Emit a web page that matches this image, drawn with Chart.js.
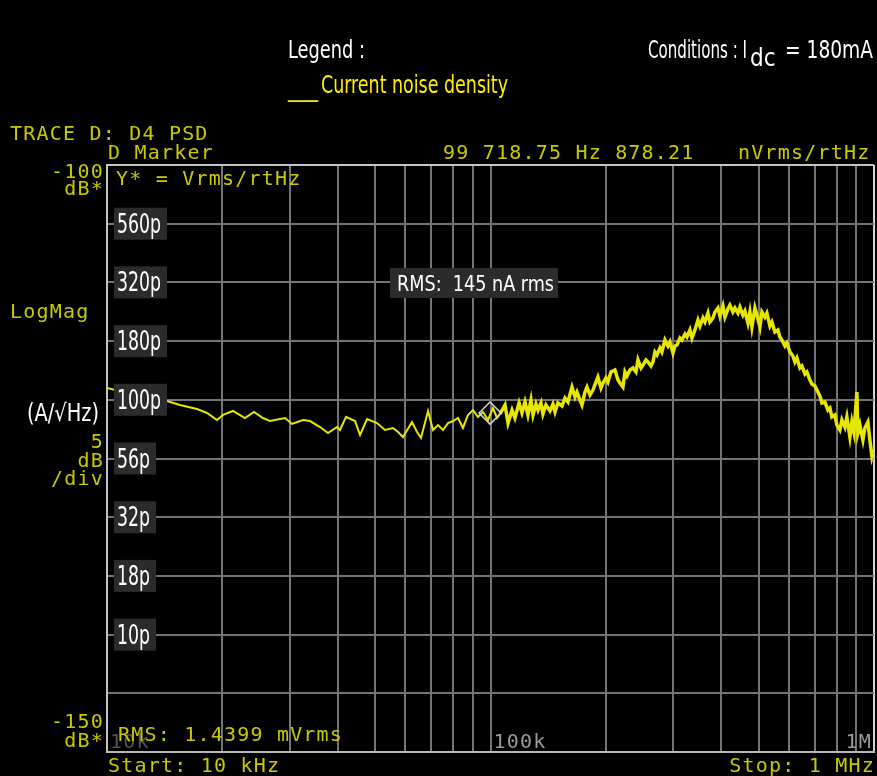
<!DOCTYPE html>
<html>
<head>
<meta charset="utf-8">
<title>Current noise density</title>
<script src="https://cdn.jsdelivr.net/npm/chart.js@4.4.0/dist/chart.umd.min.js"></script>
<style>
  html, body { margin: 0; padding: 0; background: #000; }
  #wrap { width: 877px; height: 776px; }
</style>
</head>
<body>
<div id="wrap"><canvas id="psd"></canvas></div>
<script>
// trace D (frequency in kHz, level in dB Vrms/rtHz)
var freqKHz = [
  10.0, 12.19, 14.34, 15.50, 17.17, 18.23, 19.36, 20.07, 21.31, 22.89,
  24.17, 25.51, 26.61, 29.12, 30.37, 32.44, 33.84, 35.93, 37.70, 39.79,
  40.51, 42.00, 44.34, 45.69, 47.65, 50.59, 53.08, 55.69, 57.39, 59.14,
  62.42, 64.33, 65.89, 68.72, 70.81, 72.97, 75.19, 77.48, 79.84, 82.27,
  84.77, 87.35, 90.01, 92.75, 95.58, 98.51, 101.5, 104.0, 105.9, 109.1,
  111.1, 113.8, 115.8, 118.7, 120.8, 123.0, 125.2, 127.5, 129.1, 131.4,
  133.0, 135.4, 137.0, 139.5, 142.9, 145.5, 147.3, 149.9, 153.6, 156.4,
  159.2, 163.1, 166.1, 168.1, 171.1, 173.2, 176.3, 178.5, 181.7, 185.0,
  188.4, 190.6, 194.1, 196.5, 200.0, 202.4, 206.1, 211.1, 215.0, 217.6,
  221.5, 224.2, 226.9, 231.0, 235.2, 239.5, 242.4, 246.8, 249.8, 254.3,
  257.4, 262.1, 265.2, 268.4, 271.7, 276.6, 279.9, 285.0, 290.2, 293.7,
  299.1, 302.7, 306.3, 311.9, 315.6, 321.4, 325.3, 331.2, 335.2, 341.3,
  347.5, 351.7, 358.1, 362.4, 369.0, 373.4, 380.2, 384.8, 391.8, 396.5,
  403.7, 408.6, 416.0, 421.0, 428.7, 433.9, 441.8, 447.1, 455.2, 460.7,
  469.1, 474.7, 480.5, 489.2, 495.1, 504.1, 510.2, 519.5, 525.7, 535.3,
  541.8, 551.6, 561.6, 568.4, 575.3, 585.7, 592.8, 603.6, 614.6, 622.0,
  629.5, 640.9, 648.7, 660.5, 668.4, 680.6, 688.8, 701.3, 709.8, 722.7,
  731.4, 744.7, 758.2, 767.4, 776.6, 790.8, 800.3, 814.9, 824.7, 839.7,
  849.8, 865.3, 875.7, 886.3, 902.4, 907.8, 918.8, 935.5, 946.8, 964.0,
  975.6, 988.0, 1000
];
var levelDb = [
  -118.99, -119.68, -120.10, -120.44, -120.78, -121.12, -121.72, -121.29, -120.95, -121.55,
  -121.04, -121.55, -121.81, -121.55, -122.06, -121.72, -121.81, -122.32, -122.83, -122.32,
  -122.57, -121.46, -121.81, -123.00, -121.64, -121.98, -122.57, -122.40, -122.74, -123.17,
  -121.89, -122.74, -123.25, -120.95, -122.57, -122.15, -122.57, -121.98, -121.81, -121.55,
  -122.40, -121.29, -120.87, -121.46, -121.04, -121.72, -120.70, -121.55, -121.21, -120.44,
  -121.98, -120.87, -121.55, -120.27, -121.12, -120.19, -121.29, -120.02, -121.29, -120.36,
  -120.87, -120.27, -121.21, -120.44, -120.95, -120.36, -121.04, -120.27, -120.53, -119.85,
  -120.19, -118.91, -119.76, -119.34, -120.02, -120.44, -119.34, -118.91, -119.59, -119.17,
  -118.48, -118.06, -118.99, -118.57, -118.14, -118.48, -117.63, -117.46, -118.31, -118.57,
  -118.91, -117.63, -117.97, -117.46, -117.29, -117.63, -116.61, -117.29, -117.04, -116.61,
  -116.78, -117.12, -116.78, -115.93, -116.18, -115.59, -115.93, -114.91, -115.42, -115.08,
  -116.01, -115.42, -115.33, -114.74, -114.91, -114.40, -114.65, -114.05, -114.74, -114.05,
  -113.20, -113.71, -113.03, -113.37, -112.61, -113.37, -113.03, -112.52, -112.18, -112.86,
  -112.01, -112.95, -112.27, -111.93, -112.52, -112.18, -112.61, -112.10, -112.78, -112.44,
  -113.46, -112.52, -113.80, -112.18, -112.78, -113.80, -112.52, -112.95, -112.61, -113.71,
  -113.37, -114.22, -114.05, -114.65, -114.91, -115.42, -115.16, -115.93, -116.27, -116.78,
  -116.44, -117.29, -117.12, -117.80, -117.63, -118.31, -118.65, -118.82, -119.17, -119.68,
  -120.27, -120.19, -120.87, -120.70, -121.46, -121.29, -122.15, -122.57, -121.72, -122.32,
  -121.46, -123.17, -121.89, -122.74, -119.34, -122.83, -122.15, -123.42, -122.40, -121.89,
  -123.42, -124.87, -124.28
];

var markerKHz = 99.71875;
var markerDb = -121.13;

var xGridKHz = [10, 20, 30, 40, 50, 60, 70, 80, 90, 100, 200, 300, 400, 500, 600, 700, 800, 900, 1000];
var yGridDb = [-150, -145, -140, -135, -130, -125, -120, -115, -110, -105, -100];
var yLabelDb = [-105, -110, -115, -120, -125, -130, -135, -140];
var yLabelText = ['560p', '320p', '180p', '100p', '56p', '32p', '18p', '10p'];

var NARROW = "'Liberation Sans Narrow', 'DejaVu Sans Condensed', sans-serif";
var MONO = "'DejaVu Sans Mono', 'Liberation Mono', monospace";
var HP_YELLOW = '#c9c900';

function mono(ctx, str, x, y, align, color) {
  ctx.font = '20px ' + MONO;
  ctx.letterSpacing = '1.2px';
  ctx.textAlign = align || 'left';
  ctx.fillStyle = color || HP_YELLOW;
  ctx.fillText(str, x, y);
  ctx.letterSpacing = '0px';
}

// condensed white text, squeezed to look like the narrow font of the original
function narrow(ctx, str, x, y, w, color, size) {
  ctx.font = (size || 24) + 'px ' + NARROW;
  ctx.textAlign = 'left';
  ctx.fillStyle = color || '#fff';
  ctx.fillText(str, x, y, w);
}

var screenText = {
  id: 'screenText',
  beforeDraw: function (chart) {
    var ctx = chart.ctx;
    ctx.save();
    ctx.fillStyle = '#000';
    ctx.fillRect(0, 0, chart.width, chart.height);
    ctx.restore();
  },
  afterDraw: function (chart) {
    var ctx = chart.ctx;
    var xs = chart.scales.x;
    var ys = chart.scales.y;
    var area = chart.chartArea;
    ctx.save();
    ctx.textBaseline = 'alphabetic';

    // y labels in A/rtHz, boxed, on the library's y scale
    ctx.font = '26px ' + NARROW;
    yLabelDb.forEach(function (v, i) {
      var py = ys.getPixelForValue(v);
      var w = ctx.measureText(yLabelText[i]).width * 0.74;
      ctx.fillStyle = '#2b2b2b';
      ctx.fillRect(area.left + 7, py - 16, w + 9, 32);
      narrow(ctx, yLabelText[i], area.left + 10, py + 9, w, '#fff', 26);
      ctx.font = '26px ' + NARROW;
    });

    // header
    narrow(ctx, 'Legend :', 288, 58, 77);
    narrow(ctx, '___', 288, 96, 30, '#ffee00');
    narrow(ctx, 'Current noise density', 321, 93, 187, '#ffee00');
    narrow(ctx, 'Conditions : I', 648, 58, 99);
    narrow(ctx, 'dc', 750, 66, 30, '#fff', 24);
    narrow(ctx, '= 180mA', 785, 58, 88);

    // analyzer annotations
    mono(ctx, 'TRACE D: D4 PSD', 10, 140);
    mono(ctx, 'D Marker', 108, 159);
    mono(ctx, '99 718.75 Hz 878.21', 443, 159);
    mono(ctx, 'nVrms/rtHz', 738, 159);
    mono(ctx, '-100', 104, 178, 'right');
    mono(ctx, 'dB*', 104, 195, 'right');
    mono(ctx, 'Y* = Vrms/rtHz', 116, 185);
    mono(ctx, 'LogMag', 10, 318);
    mono(ctx, '5', 104, 448, 'right');
    mono(ctx, 'dB', 104, 467, 'right');
    mono(ctx, '/div', 104, 485, 'right');
    mono(ctx, '-150', 104, 728, 'right');
    mono(ctx, 'dB*', 104, 747, 'right');
    mono(ctx, '10k', xs.getPixelForValue(10) + 3, 748, 'left', '#555');
    mono(ctx, '100k', xs.getPixelForValue(100) + 3, 748, 'left', '#9a9a9a');
    mono(ctx, '1M', area.right - 2, 748, 'right', '#9a9a9a');
    mono(ctx, 'RMS: 1.4399 mVrms', 118, 741);
    mono(ctx, 'Start: 10 kHz', 108, 772);
    mono(ctx, 'Stop: 1 MHz', 875, 772, 'right');

    // unit label and RMS box
    narrow(ctx, '(A/\u221AHz)', 27, 421, 72);
    ctx.fillStyle = '#2b2b2b';
    ctx.fillRect(390, 268, 168, 30);
    narrow(ctx, 'RMS:  145 nA rms', 397, 291, 157, '#fff', 22);
    ctx.restore();
  }
};

var ctx = document.getElementById('psd');
var psdChart = new Chart(ctx, {
  type: 'line',
  data: {
    datasets: [
      {
        label: 'Marker',
        data: [{ x: markerKHz, y: markerDb }],
        showLine: false,
        pointStyle: 'rectRot',
        pointRadius: 11,
        pointBorderColor: '#d8d8d8',
        pointBackgroundColor: 'rgba(0,0,0,0)',
        pointBorderWidth: 1.5,
        order: 0
      },
      {
        label: 'Current noise density',
        data: freqKHz.map(function (f, i) { return { x: f, y: levelDb[i] }; }),
        borderColor: '#e6e600',
        borderWidth: 2,
        segment: {
          borderWidth: function (c) { return c.p0.parsed.x > 105 ? 3.5 : 2; }
        },
        pointRadius: 0,
        tension: 0,
        order: 1
      }
    ]
  },
  options: {
    responsive: true,
    maintainAspectRatio: false,
    animation: false,
    layout: { autoPadding: false, padding: { left: 107, right: 3, top: 165, bottom: 24 } },
    plugins: {
      legend: { display: false },
      tooltip: { enabled: false }
    },
    scales: {
      x: {
        type: 'logarithmic',
        min: 10,
        max: 1000,
        afterBuildTicks: function (scale) {
          scale.ticks = xGridKHz.map(function (v) { return { value: v }; });
        },
        ticks: { display: false },
        grid: {
          color: function (c) { return c.tick && c.tick.value === 1000 ? '#d0d0d0' : '#747474'; },
          lineWidth: 2,
          drawTicks: false
        },
        border: { color: '#b8b8b8', width: 2 }
      },
      y: {
        min: -150,
        max: -100,
        afterBuildTicks: function (scale) {
          scale.ticks = yGridDb.map(function (v) { return { value: v }; });
        },
        ticks: { display: false },
        grid: {
          color: function (c) { return c.tick && c.tick.value === -100 ? '#c4c4c4' : '#747474'; },
          lineWidth: 2,
          drawTicks: false
        },
        border: { color: '#c4c4c4', width: 2 }
      }
    }
  },
  plugins: [screenText]
});
</script>
</body>
</html>
